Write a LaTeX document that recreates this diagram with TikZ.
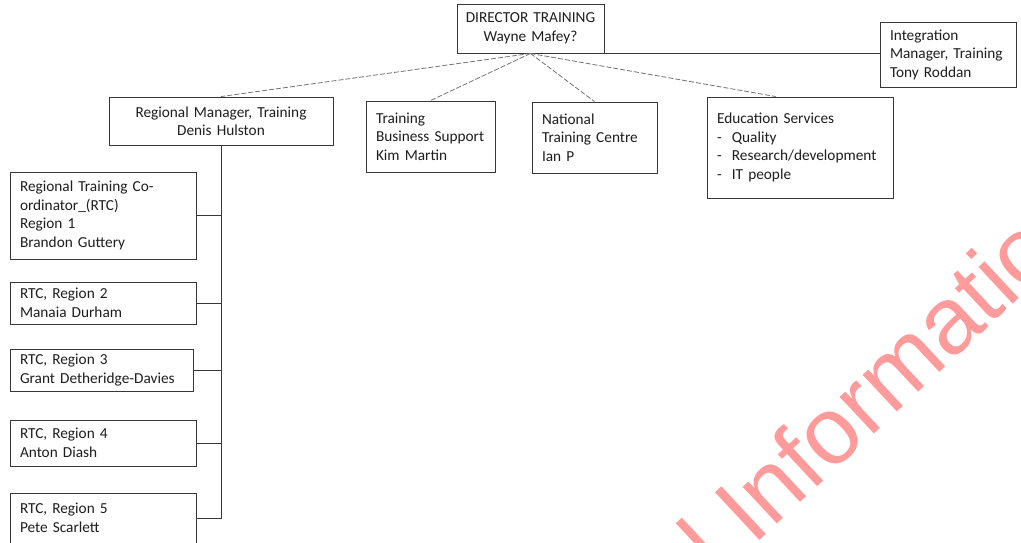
\documentclass[tikz,border=0pt]{standalone}
\usepackage{fontspec}
\setmainfont{Carlito}
\newfontfamily\wmfont{Liberation Sans}
\usepackage{xcolor}
\usepackage{tikz}
\usetikzlibrary{positioning, calc}
\definecolor{wmpink}{RGB}{255,155,155}
\definecolor{boxline}{RGB}{55,55,55}
\definecolor{txtgrey}{RGB}{30,30,30}

\tikzset{
  role/.style={draw=boxline, line width=0.9pt, text=txtgrey, inner xsep=10pt, inner ysep=0pt,
    font=\fontsize{15.3}{18.5}\selectfont},
  dotlink/.style={draw=black!55, line width=0.8pt, dash pattern=on 5pt off 2pt},
  solidlink/.style={draw=boxline, line width=0.9pt}
}

\begin{document}
\begin{tikzpicture}[x=1pt, y=-1pt]
                \useasboundingbox (0,0) rectangle (1021,542);
                \fill[white] (0,0) rectangle (1021,542);

                % watermark, cut off by the page
                \begin{scope}
                \clip (0,0) rectangle (1021,542);
                \node[text=wmpink, font=\wmfont\fontsize{95}{95}\selectfont, rotate=43,
                      anchor=base east, inner sep=0pt] (wm) at (1101,222) {Official Information};
                \end{scope}

                % top row
                \node[role, align=center, inner xsep=3pt, text width=141pt, minimum height=49pt] (dir) at (530.5,28.5)
                    {DIRECTOR TRAINING\\Wayne Mafey?};
                \node[role, align=left, text width=116pt, minimum height=65pt] (integ) at (948,54.5)
                    {Integration\\Manager, Training\\Tony Roddan};

                \node[role, align=center, text width=204pt, minimum height=48pt] (rm) at (221,121)
                    {Regional Manager, Training\\Denis Hulston};
                \node[role, align=left, text width=109pt, minimum height=71pt] (tbs) at (430.5,136.5)
                    {Training\\Business Support\\Kim Martin};
                \node[role, align=left, text width=105pt, minimum height=71pt] (ntc) at (594.5,137.5)
                    {National\\Training Centre\\Ian P};
                \node[role, align=left, text width=166pt, minimum height=101pt] (edu) at (800,147.5)
                    {Education Services\\-\ \ Quality\\-\ \ Research/development\\-\ \ IT people};

                % regional co-ordinators
                \node[role, align=left, text width=166pt, minimum height=87pt] (rtc1) at (103,215.5)
                    {Regional Training Co-\\ordinator\_(RTC)\\Region 1\\Brandon Guttery};
                \node[role, align=left, text width=166pt, minimum height=42pt] (rtc2) at (103,303)
                    {RTC, Region 2\\Manaia Durham};
                \node[role, align=left, text width=163pt, minimum height=42pt] (rtc3) at (101.5,370)
                    {RTC, Region 3\\Grant Detheridge-Davies};
                \node[role, align=left, text width=166pt, minimum height=46pt] (rtc4) at (103,443)
                    {RTC, Region 4\\Anton Diash};
                \node[role, align=left, text width=166pt, minimum height=50pt] (rtc5) at (103,518)
                    {RTC, Region 5\\Pete Scarlett};

                % links from the director
                \draw[dotlink] (dir.south) -- (rm.north);
                \draw[dotlink] (dir.south) -- (tbs.north);
                \draw[dotlink] (dir.south) -- (ntc.north);
                \draw[dotlink] (dir.south) -- ($(edu.north west)!0.37!(edu.north east)$);
                \draw[solidlink, line width=0.7pt] (dir.south east) -- (dir.south east -| integ.west);

                % trunk down to the RTCs
                \draw[solidlink] (rm.south) -- (rm.south |- rtc5.east) -- (rtc5.east);
                \foreach \r in {rtc1, rtc2, rtc3, rtc4}
                    \draw[solidlink] (\r.east) -- (\r.east -| rm.south);
            \end{tikzpicture}
\end{document}
